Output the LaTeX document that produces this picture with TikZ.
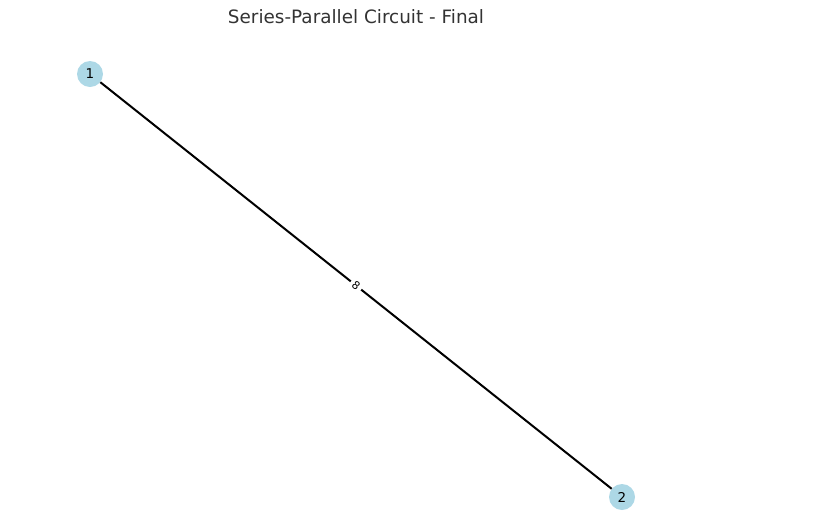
\documentclass[tikz,border=0pt]{standalone}
\usepackage{fontspec}
\setmainfont{DejaVu Sans}
\definecolor{nodeblue}{HTML}{ADD8E6}
\definecolor{titlegray}{HTML}{333333}
\begin{document}
\begin{tikzpicture}[x=1pt,y=-1pt,
  vertex/.style={circle,fill=nodeblue,minimum size=26pt,inner sep=0pt,font=\fontsize{13.5}{14}\selectfont},
  wire/.style={line width=2pt,black},
  wlabel/.style={fill=white,inner sep=3pt,font=\fontsize{11}{12}\selectfont,sloped}]
\useasboundingbox (0,0) rectangle (829,523);
\node[font=\fontsize{18.4}{20}\selectfont,text=titlegray] (title) at (356,17) {Series-Parallel Circuit - Final};
\node[vertex] (n1) at (90,74) {1};
\node[vertex] (n2) at (622,497) {2};
\draw[wire] (n1) -- node[wlabel] (l8) {8} (n2);
\end{tikzpicture}
\end{document}
